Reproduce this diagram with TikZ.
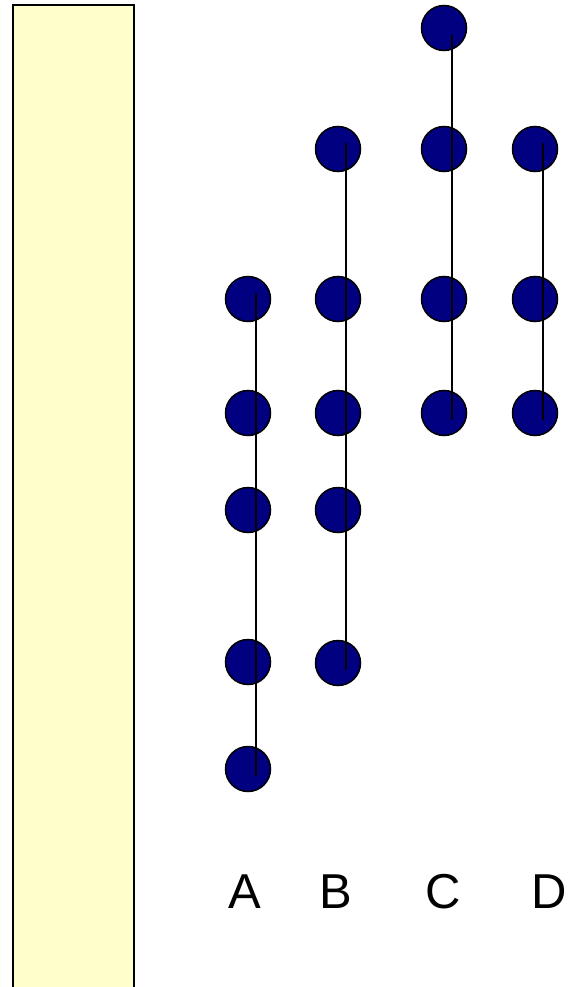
\documentclass[tikz,border=0pt]{standalone}
\usepackage{fontspec}
\setmainfont{Liberation Sans}
\usetikzlibrary{positioning}
\definecolor{dotblue}{RGB}{0,0,128}
\definecolor{padyellow}{RGB}{255,255,204}

\begin{document}
\begin{tikzpicture}[x=1pt, y=-1pt,
    dot/.style={circle, draw=black, line width=1.5pt, fill=dotblue, minimum size=45pt, inner sep=0pt},
    chain/.style={line width=1.3pt},
    colname/.style={anchor=base, font=\fontsize{49}{49}\selectfont}]
  \useasboundingbox (0,0) rectangle (571,987);
  \draw[line width=1.5pt, fill=padyellow] (13,5) rectangle (134,1000);
  % dots of each column
  \foreach \i/\y in {1/299,2/413,3/510,4/662,5/769}
    \node[dot] (a\i) at (248,\y) {};
  \foreach \i/\y in {1/149,2/299,3/413,4/510,5/663}
    \node[dot] (b\i) at (338,\y) {};
  \foreach \i/\y in {1/28,2/149,3/299,4/413}
    \node[dot] (c\i) at (444,\y) {};
  \foreach \i/\y in {1/149,2/299,3/413}
    \node[dot] (d\i) at (535,\y) {};
  % lines through the columns
  \draw[chain] ([xshift=8pt,yshift=6pt]a1.center) -- ([xshift=8pt,yshift=-7pt]a5.center);
  \draw[chain] ([xshift=8pt,yshift=6pt]b1.center) -- ([xshift=8pt,yshift=-7pt]b5.center);
  \draw[chain] ([xshift=8pt,yshift=-7pt]c1.center) -- ([xshift=8pt,yshift=-7pt]c4.center);
  \draw[chain] ([xshift=8pt,yshift=6pt]d1.center) -- ([xshift=8pt,yshift=-7pt]d3.center);
  % labels
  \node[colname] (la) at (244.5,908) {A};
  \node[colname] (lb) at (336,908) {B};
  \node[colname] (lc) at (443.5,908) {C};
  \node[colname] (ld) at (549,908) {D};
\end{tikzpicture}
\end{document}
